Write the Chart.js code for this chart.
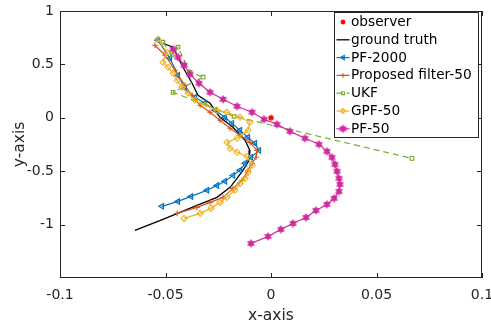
<!DOCTYPE html>
<html>
<head>
<meta charset="utf-8">
<script src="https://cdn.jsdelivr.net/npm/chart.js@4.4.0/dist/chart.umd.min.js"></script>
<style>
  html, body { margin: 0; padding: 0; background: #fff; }
</style>
</head>
<body>
<canvas id="myChart" width="491" height="326"></canvas>
<script>
// eixos
const xTicks = [-0.1, -0.05, 0, 0.05, 0.1]
const xTickLabels = ['-0.1', '-0.05', '0', '0.05', '0.1']
const yTicks = [-1, -0.5, 0, 0.5, 1]
const yTickLabels = ['-1', '-0.5', '0', '0.5', '1']

// valores
const observerX = [0]
const observerY = [0]

const truthX = [-0.0512, -0.0464, -0.0417, -0.0374, -0.0346, -0.0289, -0.0242, -0.018, -0.0123, -0.01, -0.0104, -0.0133, -0.0161, -0.0194, -0.0256, -0.0351, -0.0512, -0.0645]
const truthY = [0.698, 0.661, 0.473, 0.323, 0.211, 0.136, 0.005, -0.089, -0.211, -0.305, -0.398, -0.492, -0.567, -0.651, -0.745, -0.82, -0.951, -1.054]

const pf2000X = [-0.0536, -0.0479, -0.0441, -0.0408, -0.036, -0.0313, -0.0265, -0.0218, -0.0185, -0.0147, -0.0109, -0.0076, -0.0057, -0.0095, -0.0123, -0.0147, -0.018, -0.0218, -0.0256, -0.0303, -0.0379, -0.0441, -0.0517]
const pf2000Y = [0.726, 0.558, 0.398, 0.276, 0.192, 0.136, 0.07, 0.005, -0.052, -0.117, -0.183, -0.239, -0.305, -0.37, -0.426, -0.492, -0.539, -0.595, -0.633, -0.679, -0.736, -0.783, -0.829]

const proposedX = [-0.055, -0.0502, -0.0455, -0.0408, -0.0374, -0.0336, -0.0289, -0.0242, -0.0194, -0.0147, -0.01, -0.0066, -0.0071, -0.009, -0.0109, -0.0137, -0.018, -0.0227, -0.0289, -0.0351, -0.0445]
const proposedY = [0.679, 0.586, 0.445, 0.305, 0.211, 0.117, 0.052, -0.023, -0.098, -0.164, -0.23, -0.305, -0.37, -0.426, -0.492, -0.586, -0.661, -0.745, -0.792, -0.839, -0.895]

const ukfX = [-0.0512, -0.0469, -0.0441, -0.0384, -0.0322, -0.0464, -0.0175, 0.0668]
const ukfY = [0.708, 0.586, 0.661, 0.426, 0.38, 0.239, 0.014, -0.38]

const gpfX = [-0.0536, -0.0493, -0.0512, -0.0488, -0.0464, -0.0445, -0.0422, -0.0393, -0.036, -0.0313, -0.0256, -0.0209, -0.0147, -0.01, -0.0109, -0.0161, -0.0209, -0.0194, -0.0161, -0.0114, -0.009, -0.0109, -0.0123, -0.0147, -0.0171, -0.0209, -0.0242, -0.0284, -0.0336, -0.0412]
const gpfY = [0.736, 0.614, 0.52, 0.473, 0.417, 0.351, 0.286, 0.23, 0.164, 0.117, 0.07, 0.052, 0.005, -0.042, -0.117, -0.192, -0.23, -0.286, -0.323, -0.361, -0.445, -0.511, -0.567, -0.614, -0.679, -0.745, -0.792, -0.848, -0.895, -0.942]

const pf50X = [-0.0464, -0.0441, -0.0412, -0.0384, -0.0341, -0.0289, -0.0227, -0.0161, -0.009, -0.0033, 0.0028, 0.009, 0.0161, 0.0227, 0.0265, 0.0289, 0.0303, 0.0313, 0.0322, 0.0327, 0.0322, 0.0299, 0.0265, 0.0213, 0.0166, 0.0104, 0.0047, -0.0014, -0.0095]
const pf50Y = [0.642, 0.567, 0.492, 0.408, 0.323, 0.239, 0.173, 0.108, 0.052, -0.014, -0.061, -0.127, -0.192, -0.248, -0.314, -0.37, -0.436, -0.501, -0.567, -0.623, -0.689, -0.754, -0.811, -0.867, -0.933, -0.989, -1.045, -1.111, -1.176]

const textColor = '#262626'
const fontName = '"DejaVu Sans", sans-serif'

function pts(xs, ys) {
  return xs.map((x, i) => ({ x: x, y: ys[i] }))
}

// marcador hexagrama (não existe no Chart.js)
function hexagram(color, r) {
  const s = Math.ceil(r * 2 + 2)
  const c = document.createElement('canvas')
  c.width = s
  c.height = s
  const g = c.getContext('2d')
  g.fillStyle = color
  for (let k = 0; k < 2; k++) {
    g.beginPath()
    for (let j = 0; j < 3; j++) {
      const a = -Math.PI / 2 + k * Math.PI + j * 2 * Math.PI / 3
      const px = s / 2 + r * Math.cos(a)
      const py = s / 2 + r * Math.sin(a)
      if (j === 0) g.moveTo(px, py)
      else g.lineTo(px, py)
    }
    g.closePath()
    g.fill()
  }
  return c
}

const magenta = '#d02a9c'
const hexImg = hexagram(magenta, 4.5)

const datasets = [
  {
    label: 'observer', data: pts(observerX, observerY), showLine: false,
    pointStyle: 'star', pointRadius: 3, borderColor: '#ff0000', backgroundColor: '#ff0000',
    pointBorderWidth: 1.3, order: 0
  },
  {
    label: 'ground truth', data: pts(truthX, truthY), showLine: true,
    borderColor: '#000000', borderWidth: 1.3, pointRadius: 0, order: 6
  },
  {
    label: 'PF-2000', data: pts(pf2000X, pf2000Y), showLine: true,
    borderColor: '#0072bd', backgroundColor: 'rgba(0,114,189,0.35)', borderWidth: 1.2,
    pointStyle: 'triangle', pointRotation: -90, pointRadius: 3.2, pointBorderWidth: 1.1, order: 5
  },
  {
    label: 'Proposed filter-50', data: pts(proposedX, proposedY), showLine: true,
    borderColor: '#d95319', backgroundColor: '#d95319', borderWidth: 1.2,
    pointStyle: 'cross', pointRadius: 2.8, pointBorderWidth: 1.1, order: 4
  },
  {
    label: 'UKF', data: pts(ukfX, ukfY), showLine: true,
    borderColor: '#77ac30', backgroundColor: 'rgba(255,255,255,0)', borderWidth: 1.2, borderDash: [6, 4],
    pointStyle: 'rect', pointRadius: 2.6, pointBorderWidth: 1.1, order: 3
  },
  {
    label: 'GPF-50', data: pts(gpfX, gpfY), showLine: true,
    borderColor: '#edb120', backgroundColor: 'rgba(255,255,255,0)', borderWidth: 1.2,
    pointStyle: 'rectRot', pointRadius: 3, pointBorderWidth: 1.1, order: 2
  },
  {
    label: 'PF-50', data: pts(pf50X, pf50Y), showLine: true,
    borderColor: magenta, backgroundColor: magenta, borderWidth: 1.2,
    pointStyle: hexImg, pointRadius: 4.5, order: 1
  }
]

// caixa do eixo com ticks para dentro
const axisBox = {
  id: 'axisBox',
  afterDatasetsDraw(chart) {
    const { ctx, chartArea: a, scales } = chart
    ctx.save()
    ctx.strokeStyle = textColor
    ctx.lineWidth = 1
    ctx.setLineDash([])
    ctx.strokeRect(a.left + 0.5, a.top + 0.5, a.right - a.left - 1, a.bottom - a.top - 1)
    ctx.beginPath()
    xTicks.forEach(v => {
      const px = Math.round(scales.x.getPixelForValue(v)) + 0.5
      ctx.moveTo(px, a.bottom)
      ctx.lineTo(px, a.bottom - 5)
      ctx.moveTo(px, a.top)
      ctx.lineTo(px, a.top + 5)
    })
    yTicks.forEach(v => {
      const py = Math.round(scales.y.getPixelForValue(v)) + 0.5
      ctx.moveTo(a.left, py)
      ctx.lineTo(a.left + 5, py)
      ctx.moveTo(a.right, py)
      ctx.lineTo(a.right - 5, py)
    })
    ctx.stroke()
    ctx.restore()
  }
}

// legenda dentro do gráfico, como no matlab
const boxLegend = {
  id: 'boxLegend',
  afterDraw(chart) {
    const ctx = chart.ctx
    const a = chart.chartArea
    const w = 144, h = 125
    const x0 = a.right - 4 - w
    const y0 = a.top + 1
    ctx.save()
    ctx.fillStyle = '#ffffff'
    ctx.fillRect(x0, y0, w, h)
    ctx.strokeStyle = textColor
    ctx.lineWidth = 1
    ctx.strokeRect(x0 + 0.5, y0 + 0.5, w, h)
    ctx.font = '13.7px ' + fontName
    ctx.textBaseline = 'middle'
    datasets.forEach((ds, i) => {
      const cy = y0 + 10 + i * 17.8
      const cx = x0 + 9
      if (ds.showLine) {
        ctx.strokeStyle = ds.borderColor
        ctx.lineWidth = ds.borderWidth
        ctx.setLineDash(ds.borderDash || [])
        ctx.beginPath()
        ctx.moveTo(x0 + 2.5, cy)
        ctx.lineTo(x0 + 15.5, cy)
        ctx.stroke()
        ctx.setLineDash([])
      }
      if (ds.pointRadius > 0) {
        ctx.strokeStyle = ds.borderColor
        ctx.fillStyle = ds.backgroundColor
        ctx.lineWidth = ds.pointBorderWidth || 1
        Chart.helpers.drawPoint(ctx, {
          pointStyle: ds.pointStyle, radius: ds.pointRadius * 0.8,
          rotation: ds.pointRotation || 0, borderWidth: ds.pointBorderWidth || 1
        }, cx, cy)
      }
      ctx.fillStyle = '#000000'
      ctx.fillText(ds.label, x0 + 17, cy + 0.5)
    })
    ctx.restore()
  }
}

const ctx = document.getElementById('myChart').getContext('2d')

new Chart(ctx, {
  type: 'scatter',
  data: { datasets: datasets },
  options: {
    responsive: false,
    animation: false,
    devicePixelRatio: 1,
    layout: { padding: { top: 11, right: 9, left: 0, bottom: 0 } },
    plugins: {
      legend: { display: false },
      tooltip: { enabled: false }
    },
    elements: { line: { tension: 0 } },
    scales: {
      x: {
        type: 'linear',
        min: -0.1,
        max: 0.1,
        afterBuildTicks: s => { s.ticks = xTicks.map(v => ({ value: v })) },
        afterFit: s => { s.height = 48; s.paddingLeft = 0; s.paddingRight = 0 },
        grid: { display: false, drawTicks: false },
        border: { display: false },
        ticks: {
          padding: 9,
          color: textColor,
          font: { family: fontName, size: 14 },
          maxRotation: 0,
          callback: (v, i) => xTickLabels[i]
        },
        title: {
          display: true,
          text: 'x-axis',
          color: textColor,
          font: { family: fontName, size: 15.5 },
          padding: { top: 1, bottom: 1 }
        }
      },
      y: {
        type: 'linear',
        min: -1.5,
        max: 1,
        afterBuildTicks: s => { s.ticks = yTicks.map(v => ({ value: v })) },
        afterFit: s => { s.width = 60; s.paddingTop = 0; s.paddingBottom = 0 },
        grid: { display: false, drawTicks: false },
        border: { display: false },
        ticks: {
          padding: 6,
          color: textColor,
          font: { family: fontName, size: 14 },
          callback: (v, i) => yTickLabels[i]
        },
        title: {
          display: true,
          text: 'y-axis',
          color: textColor,
          font: { family: fontName, size: 15.5 },
          padding: { top: 11, bottom: 11 }
        }
      }
    }
  },
  plugins: [axisBox, boxLegend]
})
</script>
</body>
</html>
